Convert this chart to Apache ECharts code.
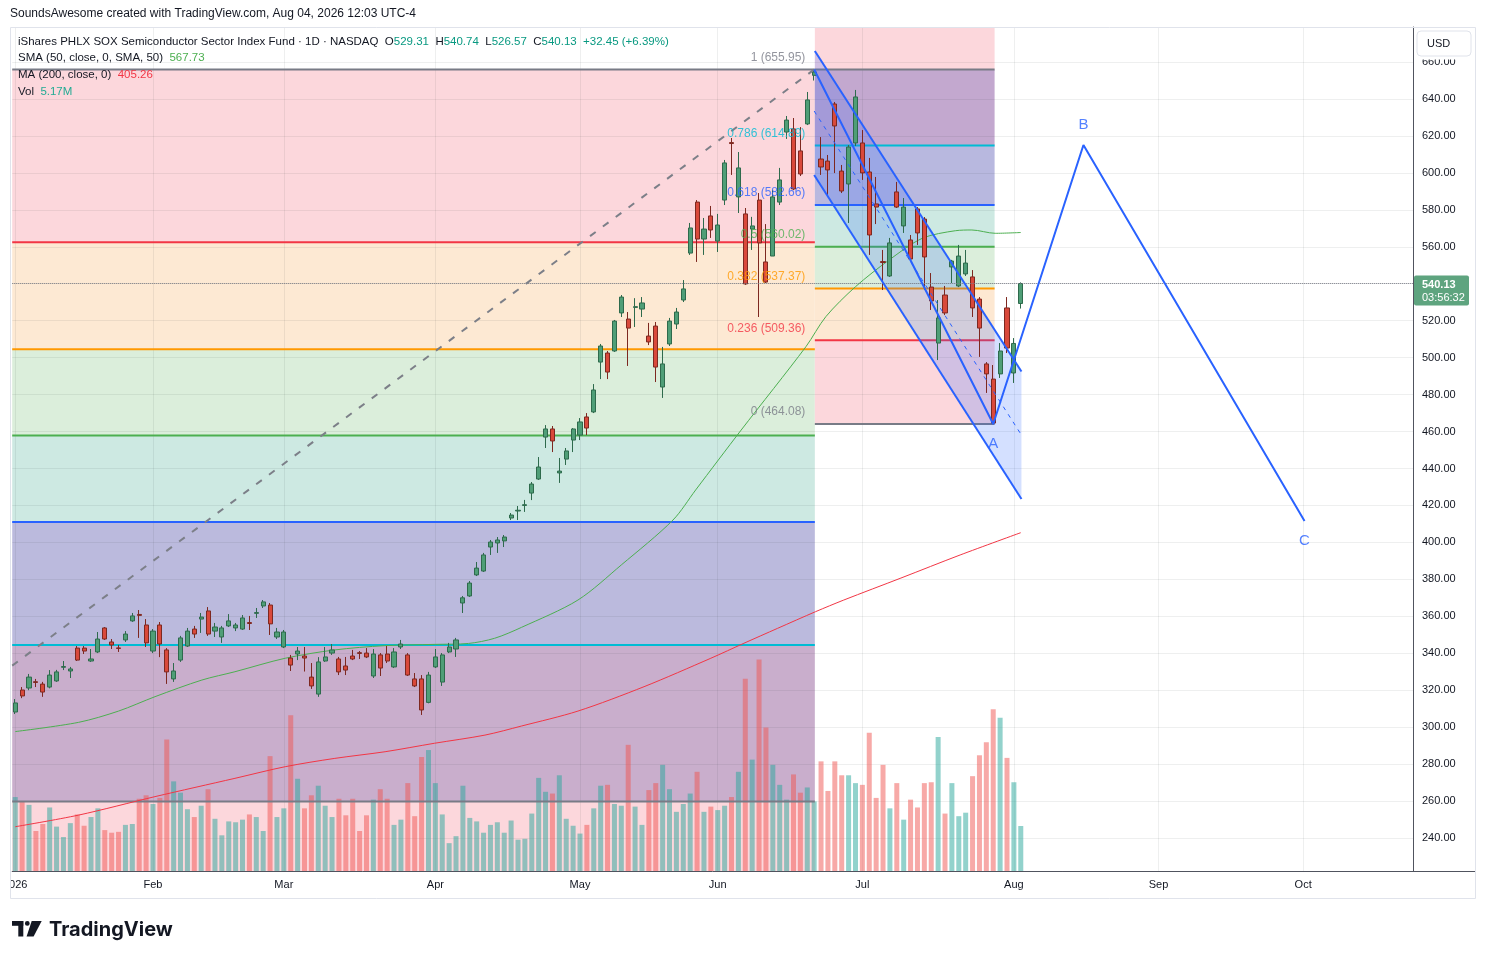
<!DOCTYPE html>
<html><head><meta charset="utf-8">
<script src="https://cdn.jsdelivr.net/npm/echarts@6/dist/echarts.min.js"></script>
<style>html,body{margin:0;padding:0;background:#fff;}#c{width:1485px;height:959px;}</style>
</head><body><div id="c"></div>
<script>
// ---------- DATA (bar index 0 = 2026-01-02, daily trading bars) ----------
const opens = [308.2,320.1,321.2,324.6,323.3,321.7,325.0,332.4,330.4,342.8,
342.8,335.8,340.7,353.7,346.1,342.9,347.2,357.5,361.0,355.3,
341.2,355.3,341.8,326.1,336.3,343.9,353.1,358.5,362.9,352.0,
348.8,354.8,353.7,353.1,356.6,361.6,365.6,366.1,348.8,343.4,
337.4,339.6,338.5,327.1,317.9,335.8,340.1,336.9,333.1,338.5,
340.3,340.1,327.7,339.1,339.6,332.6,343.4,339.1,326.1,326.1,
313.4,332.6,324.4,340.7,342.3,367.2,371.0,382.4,384.5,397.5,
399.7,400.8,413.2,417.0,420.0,426.7,434.3,457.0,461.4,437.6,
445.1,455.4,458.1,467.9,470.6,497.6,502.5,503.6,524.2,520.9,
527.2,526.3,511.7,517.1,484.1,507.4,518.2,531.2,556.6,584.2,
564.2,576.7,563.1,585.3,616.4,587.0,577.8,569.6,585.3,551.8,
555.0,584.2,622.1,623.8,611.9,626.5,652.8,607.5,606.4,637.3,
601.0,594.0,616.2,616.2,600.5,583.2,552.0,544.2,589.7,571.3,
563.7,580.5,575.0,538.2,507.9,533.9,549.1,538.8,545.3,543.7,
531.7,496.6,488.4,491.2,526.9,491.7,529.31];
const closes = [313.1,316.9,327.1,324.2,319.0,328.2,329.9,332.8,331.5,336.3,
341.2,336.9,347.7,347.7,344.5,342.6,350.4,360.2,360.5,345.6,
352.0,345.0,329.9,330.4,348.3,352.0,350.4,359.6,350.4,354.2,
353.7,357.5,355.3,359.1,356.1,362.0,367.8,355.9,351.5,351.5,
333.6,341.2,337.4,322.3,335.3,338.0,341.8,329.9,330.9,336.9,
339.9,338.0,339.6,332.0,335.8,340.7,345.0,328.2,322.3,309.3,
328.2,338.0,339.1,343.4,347.2,370.0,378.0,386.1,393.2,400.2,
401.3,402.9,414.8,417.4,420.4,431.6,440.8,461.4,454.9,438.6,
449.5,461.4,465.2,461.9,482.5,506.3,492.2,519.8,532.8,516.0,
527.6,529.6,508.5,494.9,496.6,519.8,524.7,537.2,570.2,564.2,
569.6,569.1,571.8,605.4,615.9,602.7,539.9,571.3,562.1,540.9,
587.0,596.2,628.6,591.3,599.4,639.5,654.6,603.2,601.6,625.4,
590.2,614.0,641.1,600.0,566.4,581.5,551.5,562.1,581.5,581.5,
553.4,567.5,554.5,530.7,521.5,524.2,552.3,555.0,551.2,526.9,
516.0,491.2,464.6,503.6,505.2,507.68,540.13];
const highs = [315.2,321.7,328.8,326.1,324.5,330.9,331.0,335.8,332.6,343.9,
343.9,342.3,351.5,354.2,347.7,344.5,352.0,361.8,363.4,358.5,
353.1,356.9,342.8,334.7,349.4,353.7,354.8,361.8,365.0,356.4,
354.8,361.2,356.4,360.7,360.2,364.5,368.8,367.2,353.7,352.6,
339.1,343.4,343.4,334.7,337.9,343.4,345.0,338.0,338.0,341.8,
341.2,342.8,342.3,340.1,343.9,342.8,347.2,340.1,329.3,328.2,
329.9,342.3,340.1,345.6,348.3,371.0,379.1,389.4,394.3,401.3,
402.9,404.0,415.9,419.7,423.0,432.7,446.2,463.5,463.0,445.7,
451.1,461.9,467.3,470.0,485.7,507.4,503.6,520.4,533.9,524.7,
532.2,532.8,518.8,519.3,505.8,521.5,526.9,542.0,572.9,585.3,
575.6,582.1,577.8,607.0,618.9,611.3,581.0,576.2,589.1,572.3,
590.7,602.7,630.8,629.7,624.8,643.8,655.95,619.4,609.7,638.4,
604.3,615.1,644.9,623.2,608.1,597.8,558.3,564.8,595.1,586.4,
566.4,581.5,576.1,545.8,531.2,538.8,552.9,561.0,558.3,547.4,
532.8,497.6,496.0,507.9,532.8,510.6,540.74];
const lows = [307.1,315.7,320.0,321.7,316.4,321.0,324.5,330.9,326.6,335.8,
339.6,335.3,340.1,347.2,342.3,340.7,346.1,357.0,348.3,343.4,
340.1,337.9,323.4,324.5,335.3,343.4,348.3,351.0,349.4,348.8,
345.6,354.2,352.0,352.6,352.6,359.1,364.5,349.9,347.7,342.8,
330.4,336.3,330.1,320.7,316.4,335.3,339.1,328.2,328.2,336.3,
336.9,337.4,326.6,327.7,334.7,332.0,342.3,327.7,321.7,306.6,
312.9,332.0,322.3,340.1,338.0,361.8,370.5,381.8,384.0,393.2,
394.3,397.5,412.1,412.1,416.5,422.9,433.8,451.1,448.9,432.2,
441.9,448.9,455.4,458.1,470.0,488.4,488.4,503.1,522.0,495.5,
516.6,522.0,506.8,486.8,478.2,506.3,515.5,530.1,555.6,551.8,
555.6,564.8,557.2,582.6,598.9,578.3,539.4,558.3,522.0,540.4,
555.0,582.6,618.4,590.7,598.3,625.9,650.0,598.9,587.0,599.9,
589.1,572.9,614.6,596.2,555.6,572.3,536.6,543.7,581.0,567.5,
552.9,561.0,536.6,525.8,498.7,523.1,540.4,538.2,544.2,522.0,
500.4,480.9,464.08,489.0,502.5,486.3,526.57];
// volume in millions
const volumes = [8.5,8.0,7.6,4.6,5.4,7.3,5.1,3.9,5.5,6.5,
5.2,6.2,7.2,4.7,4.4,4.5,5.3,5.4,8.3,8.7,
7.7,8.4,15.1,10.3,9.0,7.1,6.2,7.5,9.4,6.0,
4.1,5.7,5.6,5.9,6.5,6.2,4.6,13.2,6.2,7.2,
17.9,10.6,7.2,8.7,9.8,7.5,6.2,8.3,6.4,8.3,
4.6,6.4,8.2,9.4,8.3,5.3,5.9,10.1,6.3,13.1,
13.9,10.1,6.5,3.2,4.0,9.8,6.1,5.7,4.4,5.3,
5.6,4.4,5.8,3.6,3.7,6.6,10.7,9.1,8.9,11.0,
6.0,5.2,4.3,5.3,7.2,9.8,9.9,7.7,7.5,14.5,
7.4,5.3,9.3,10.1,12.2,9.4,6.8,7.7,8.9,11.4,
6.8,7.4,7.0,7.5,8.5,11.4,22.1,12.8,24.3,16.5,
12.2,9.9,8.2,11.1,9.0,9.6,8.0,12.6,9.2,12.6,
11.0,11.0,10.1,9.9,15.9,8.4,12.2,7.2,10.1,5.9,
8.2,7.3,10.1,10.2,15.4,6.6,10.1,6.3,6.7,10.9,
13.3,14.8,18.6,17.6,13.0,10.2,5.17];
// moving averages: [bar index, value]
const sma50 = [[0,297.6],[9.2,302.6],[15,308.7],[20.3,316.5],[27.1,325.5],[31.9,330.0],[39.2,337.3],[46.4,341.8],[53.6,344.1],[60.9,344.8],[65.8,345.3],[69.6,348.1],[73.5,354.0],[81.7,368.8],[88,387.8],[95.5,412.1],[98.8,428.4],[105.4,460.8],[114.8,505.9],[117.7,522.2],[122,538.4],[126.9,552.9],[131.7,564.6],[136.5,568.7],[138.9,569.1],[142.3,567.3],[146,567.73]];
const ma200 = [[0,246.1],[9.2,252.4],[20.3,262.4],[31.9,272.3],[39.2,278.6],[46.4,283.1],[53.7,286.7],[60.9,291.3],[68.2,295.7],[73.5,300.6],[81.7,308.7],[91.3,321.9],[101,337.3],[105.8,345.4],[110.7,353.5],[116.2,362.5],[120.3,368.8],[128.6,380.7],[137.2,393.2],[146,405.26]];
// axis ticks
const monthTickIdx = [0,20,39,61,82,102,123,145,166,187];
const monthTickLabels = ['2026','Feb','Mar','Apr','May','Jun','Jul','Aug','Sep','Oct'];
const priceTicks = [240,260,280,300,320,340,360,380,400,420,440,460,480,500,520,540,560,580,600,620,640,660];
// drawings
const leftFibPrices = [655.95,562.4,504.6,457.9,411.0,344.5,259.8];
const leftFibLineColors = ['#787b86','#f23645','#ff9800','#4caf50','#2962ff','#00bcd4','#787b86'];
const leftFibBandColors = ['#fcd7dc','#fde9d3','#dbeedb','#cde9e2','#bbbadd','#c9aecc'];
const rightFibPrices = [655.95,614.89,582.66,560.02,537.37,509.36,464.08];
const rightFibLabels = ['1 (655.95)','0.786 (614.89)','0.618 (582.66)','0.5 (560.02)','0.382 (537.37)','0.236 (509.36)','0 (464.08)'];
const rightFibLineColors = ['#787b86','#00bcd4','#2962ff','#4caf50','#ff9800','#f23645','#787b86'];
const rightFibBandColors = ['#c3a8cf','#b8b8df','#cde9e2','#dbeedb','#fde8d2','#fcd7dc'];
const pinkFill = '#fcd7dc';
const fibSplitX = 116.1, rightFibEndX = 142.2;
const trendLine = [[-0.44,333.3],[116,655.95]];
const channelUpper = [[116.1,666.0],[146.1,492.5]];
const channelLower = [[116.0,598.9],[146.1,423.5]];
const channelMid = [[116.0,633.5],[146.1,458.1]];
const abcPoints = [[116,655.95],[142,464.08],[155.1,615.1],[187.2,411.6]];
const abcLabels = [['A',142,464.08,'bottom'],['B',155.1,615.1,'top'],['C',187.2,411.6,'bottom']];
const lastPrice = 540.13;
const xMin = -0.44, xMax = 202.95, yMin = 222.14, yMax = 678.97, volMax = 97;

// ---------- build library tables ----------
const candleData = opens.map((o,i)=>[i,o,closes[i],lows[i],highs[i]]);
const volData = volumes.map((v,i)=>({value:[i,v],itemStyle:{color: closes[i]>=opens[i]?'rgba(38,166,154,0.5)':'rgba(239,83,80,0.5)'}}));
const bandRows = [], bandColors = [];
for (let k=0;k<leftFibPrices.length-1;k++){ bandRows.push([xMin,fibSplitX,leftFibPrices[k+1],leftFibPrices[k]]); bandColors.push(leftFibBandColors[k]); }
bandRows.push([xMin,fibSplitX,yMin,leftFibPrices[leftFibPrices.length-1]]); bandColors.push(pinkFill);
for (let k=0;k<rightFibPrices.length-1;k++){ bandRows.push([fibSplitX,rightFibEndX,rightFibPrices[k+1],rightFibPrices[k]]); bandColors.push(rightFibBandColors[k]); }
bandRows.push([fibSplitX,rightFibEndX,rightFibPrices[0],yMax]); bandColors.push(pinkFill);
const lineRows = [], lineColors = [];
leftFibPrices.forEach((p,k)=>{ lineRows.push([xMin,fibSplitX,p]); lineColors.push(leftFibLineColors[k]); });
rightFibPrices.forEach((p,k)=>{ lineRows.push([fibSplitX,rightFibEndX,p]); lineColors.push(rightFibLineColors[k]); });
const fibLabelData = rightFibPrices.map((p,k)=>({name:rightFibLabels[k],value:[fibSplitX,p],label:{color:rightFibLineColors[k]}}));
const abcLabelData = abcLabels.map(a=>({name:a[0],value:[a[1],a[2]],label:{position:a[3]}}));

const FONT = "'Liberation Sans', Arial, sans-serif";
const gridCol = 'rgba(42,46,57,0.08)';

const chart = echarts.init(document.getElementById('c'), null, {renderer:'canvas'});
const option = {
  animation:false,
  backgroundColor:'#ffffff',
  textStyle:{fontFamily:FONT},
  grid:{left:10,right:72,top:27,bottom:88,containLabel:false},
  xAxis:{type:'value',min:xMin,max:xMax,z:1,
    axisLine:{show:true,onZero:false,lineStyle:{color:'#50535e',width:1}},
    axisTick:{show:false,customValues:monthTickIdx},
    axisLabel:{customValues:monthTickIdx,color:'#131722',fontSize:11,margin:8,fontFamily:FONT,
      formatter:v=>{const k=monthTickIdx.indexOf(Math.round(v));return k>=0?monthTickLabels[k]:'';}},
    splitLine:{show:true,lineStyle:{color:gridCol,width:1}}},
  yAxis:[
    {type:'value',position:'right',min:yMin,max:yMax,z:1,splitNumber:23,
     axisLine:{show:true,onZero:false,lineStyle:{color:'#50535e',width:1}},
     axisTick:{show:false,customValues:priceTicks},
     axisLabel:{customValues:priceTicks,color:'#131722',fontSize:11,margin:9,fontFamily:FONT,
       formatter:v=>(Math.abs(v/20-Math.round(v/20))<1e-6)?v.toFixed(2):''},
     splitLine:{show:true,lineStyle:{color:gridCol,width:1}}},
    {type:'value',min:0,max:volMax,show:false,axisLine:{show:false,onZero:false},splitLine:{show:false}}
  ],
  series:[
    {type:'custom',name:'fibBands',z:0,silent:true,clip:true,data:bandRows,encode:{x:[0,1],y:[2,3]},
      renderItem:(params,api)=>{const a=api.coord([api.value(0),api.value(3)]);const b=api.coord([api.value(1),api.value(2)]);
        return {type:'rect',shape:{x:a[0],y:a[1],width:b[0]-a[0],height:b[1]-a[1]},style:{fill:bandColors[params.dataIndex]}};}},
    {type:'bar',name:'Vol',yAxisIndex:1,barWidth:5,z:2,silent:true,data:volData},
    {type:'custom',name:'fibLines',z:3,silent:true,data:lineRows,encode:{x:[0,1],y:2},
      renderItem:(params,api)=>{const a=api.coord([api.value(0),api.value(2)]);const b=api.coord([api.value(1),api.value(2)]);
        return {type:'line',shape:{x1:a[0],y1:a[1],x2:b[0],y2:b[1]},style:{stroke:lineColors[params.dataIndex],lineWidth:2}};}},
    {type:'custom',name:'channelFill',z:3,silent:true,data:[[channelUpper[0][0],channelUpper[1][0],channelUpper[0][1],channelUpper[1][1],channelLower[0][1],channelLower[1][1]]],
      encode:{x:[0,1],y:[2,3,4,5]},
      renderItem:(params,api)=>{const p1=api.coord([api.value(0),api.value(2)]),p2=api.coord([api.value(1),api.value(3)]),
        p3=api.coord([api.value(1),api.value(5)]),p4=api.coord([api.value(0),api.value(4)]);
        return {type:'polygon',shape:{points:[p1,p2,p3,p4]},style:{fill:'rgba(41,98,255,0.2)'}};}},
    {type:'line',name:'SMA50',data:sma50,z:3,smooth:0.3,symbol:'none',silent:true,lineStyle:{color:'#4caf50',width:1}},
    {type:'line',name:'MA200',data:ma200,z:3,smooth:0.3,symbol:'none',silent:true,lineStyle:{color:'#f23645',width:1}},
    {type:'candlestick',name:'SOXX',data:candleData,encode:{x:0,y:[1,2,3,4]},z:4,barWidth:4.6,silent:true,
      itemStyle:{color:'#4f9e77',color0:'#d9493b',borderColor:'#2e6a4c',borderColor0:'#7d2820',borderWidth:1},
      markLine:{silent:true,symbol:'none',label:{show:false},lineStyle:{type:'dotted',color:'#787b86',width:1},data:[{yAxis:lastPrice}]}},
    {type:'line',name:'trend',data:trendLine,z:5,symbol:'none',silent:true,lineStyle:{color:'#7c7f88',width:2,type:[7,9]}},
    {type:'line',name:'chUpper',data:channelUpper,z:5,symbol:'none',silent:true,lineStyle:{color:'#2962ff',width:2}},
    {type:'line',name:'chLower',data:channelLower,z:5,symbol:'none',silent:true,lineStyle:{color:'#2962ff',width:2}},
    {type:'line',name:'chMid',data:channelMid,z:5,symbol:'none',silent:true,lineStyle:{color:'#2962ff',width:1,type:[4,5]}},
    {type:'line',name:'ABC',data:abcPoints,z:5,symbol:'none',silent:true,lineStyle:{color:'#2962ff',width:2}},
    {type:'scatter',name:'fibLabels',data:fibLabelData,z:6,symbolSize:1,silent:true,itemStyle:{color:'rgba(0,0,0,0)'},
      label:{show:true,formatter:'{b}',position:'left',distance:9,offset:[0,-12],fontSize:12,fontFamily:FONT}},
    {type:'scatter',name:'abcLabels',data:abcLabelData,z:6,symbolSize:1,silent:true,itemStyle:{color:'rgba(0,0,0,0)'},
      label:{show:true,formatter:'{b}',distance:12,fontSize:15,color:'#2962ff',fontFamily:FONT}}
  ]
};
chart.setOption(option);

const py = chart.convertToPixel({yAxisIndex:0}, lastPrice);
const dark = '#131722', up = '#089981';
const LF = '11.5px '+FONT;
const txt = (x,y,text,extra)=>Object.assign({type:'text',z:100,style:Object.assign({x:x,y:y,text:text,font:'12px '+FONT,fill:dark,verticalAlign:'middle'},extra||{})});
chart.setOption({graphic:[
  txt(10,14,'SoundsAwesome created with TradingView.com, Aug 04, 2026 12:03 UTC-4'),
  {type:'text',z:100,style:{x:18,y:42,verticalAlign:'middle',font:LF,fill:dark,
    text:'iShares PHLX SOX Semiconductor Sector Index Fund · 1D · NASDAQ  O{v|529.31}  H{v|540.74}  L{v|526.57}  C{v|540.13}  {v|+32.45 (+6.39%)}',
    rich:{v:{fill:up,font:LF}}}},
  {type:'text',z:100,style:{x:18,y:58,verticalAlign:'middle',font:LF,fill:dark,
    text:'SMA (50, close, 0, SMA, 50)  {g|567.73}',rich:{g:{fill:'#4caf50',font:LF}}}},
  {type:'text',z:100,style:{x:18,y:75,verticalAlign:'middle',font:LF,fill:dark,
    text:'MA (200, close, 0)  {r|405.26}',rich:{r:{fill:'#f23645',font:LF}}}},
  {type:'text',z:100,style:{x:18,y:92,verticalAlign:'middle',font:LF,fill:dark,
    text:'Vol  {g|5.17M}',rich:{g:{fill:'#22ab94',font:LF}}}},
  // frame
  {type:'rect',z:90,silent:true,shape:{x:10.5,y:27.5,width:1465,height:871},style:{fill:null,stroke:'#e0e3eb',lineWidth:1}},
  {type:'line',z:90,silent:true,shape:{x1:1413,y1:871.5,x2:1475,y2:871.5},style:{stroke:'#50535e',lineWidth:1}},
  {type:'rect',z:95,silent:true,shape:{x:0,y:874,width:10,height:22},style:{fill:'#ffffff'}},
  // USD box (covers top of the price scale)
  {type:'rect',z:99,silent:true,shape:{x:1414,y:28,width:60,height:31.5},style:{fill:'#ffffff'}},
  {type:'rect',z:100,shape:{x:1417,y:31,width:54,height:25,r:4},style:{fill:'#ffffff',stroke:'#e0e3eb',lineWidth:1}},
  txt(1427,44,'USD',{font:'11px '+FONT}),
  // last price box
  {type:'rect',z:100,shape:{x:1414,y:py-8,width:55,height:30,r:2},style:{fill:'#5ea47f'}},
  txt(1422,py+1,lastPrice.toFixed(2),{font:'bold 11px '+FONT,fill:'#ffffff'}),
  txt(1422,py+14,'03:56:32',{font:'11px '+FONT,fill:'#ffffff'}),
  // TradingView logo
  {type:'rect',z:100,shape:{x:12,y:921,width:11.3,height:4.8},style:{fill:dark}},
  {type:'rect',z:100,shape:{x:18.3,y:921,width:5,height:15.5},style:{fill:dark}},
  {type:'circle',z:100,shape:{cx:27.3,cy:923.4,r:2.4},style:{fill:dark}},
  {type:'polygon',z:100,shape:{points:[[31.7,921],[41.7,921],[33.6,936.5],[26.6,936.5]]},style:{fill:dark}},
  txt(49,930,'TradingView',{font:'bold 20px Inter, '+FONT})
]});
</script></body></html>
